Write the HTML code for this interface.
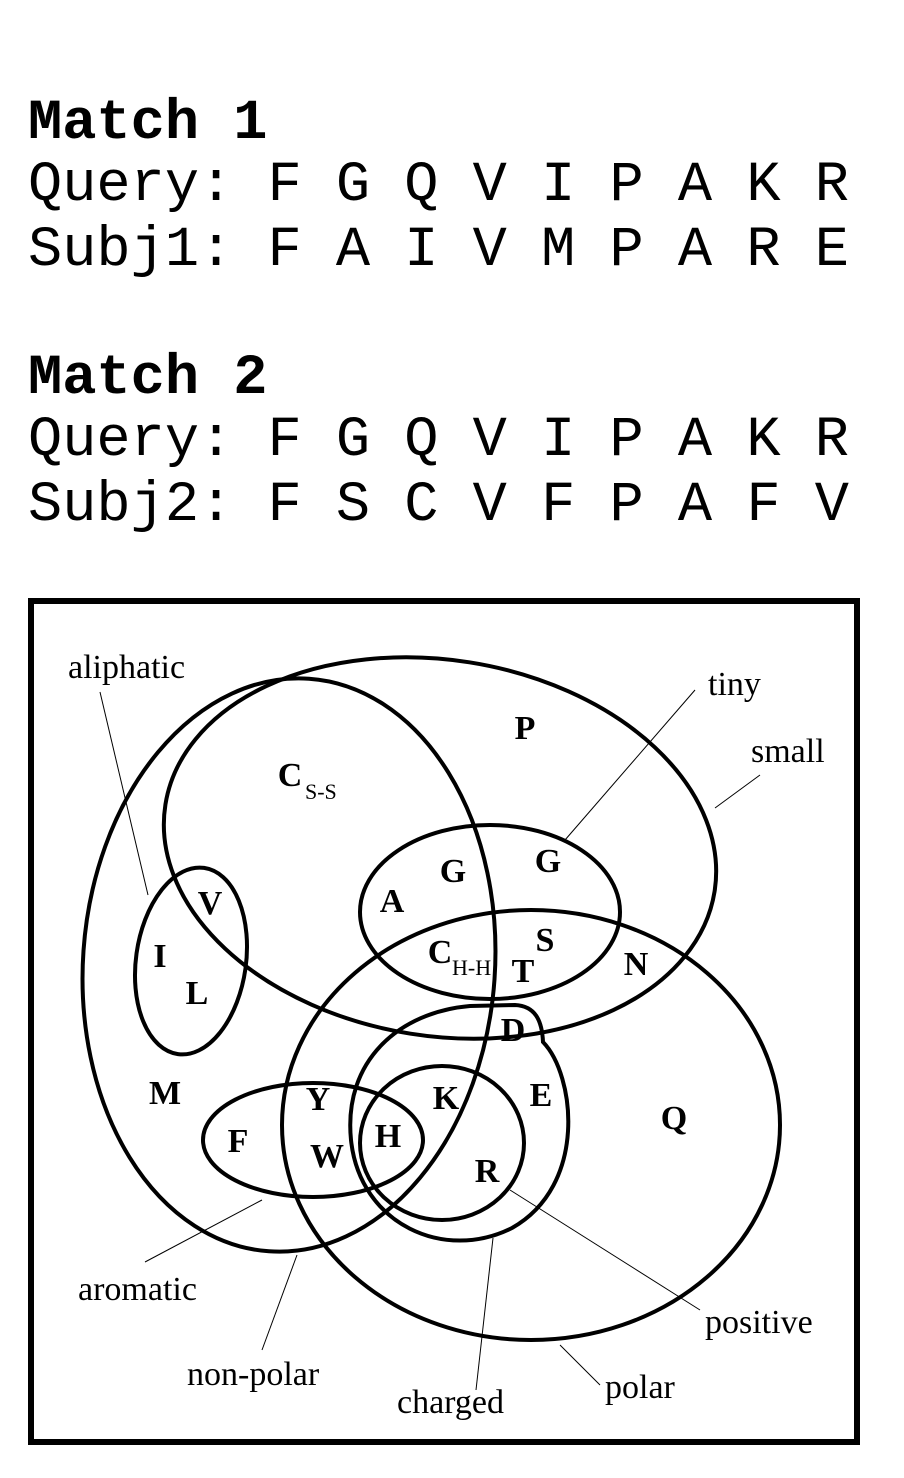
<!DOCTYPE html>
<html><head><meta charset="utf-8"><style>
html,body{margin:0;padding:0;background:#fff;}
body{width:904px;height:1478px;position:relative;overflow:hidden;}
.m{position:absolute;left:28px;font-family:"Liberation Mono",monospace;font-size:57px;white-space:pre;line-height:1;color:#000;}
.b{font-weight:bold;}
svg{position:absolute;left:0;top:0;}
</style></head><body>
<div class="m b" style="top:96px">Match 1</div>
<div class="m" style="top:158px">Query: F G Q V I P A K R</div>
<div class="m" style="top:223px">Subj1: F A I V M P A R E</div>
<div class="m b" style="top:351px">Match 2</div>
<div class="m" style="top:413px">Query: F G Q V I P A K R</div>
<div class="m" style="top:478px">Subj2: F S C V F P A F V</div>
<svg width="904" height="1478" viewBox="0 0 904 1478">
<rect x="31" y="601" width="826" height="841" fill="none" stroke="#000" stroke-width="6"/>
<g fill="none" stroke="#000" stroke-width="4">
<ellipse cx="289" cy="965" rx="206" ry="287" transform="rotate(4 289 965)"/>
<ellipse cx="440" cy="848" rx="278" ry="188" transform="rotate(9 440 848)"/>
<ellipse cx="191" cy="961" rx="55" ry="94" transform="rotate(8 191 961)"/>
<ellipse cx="490" cy="912" rx="130" ry="87"/>
<ellipse cx="531" cy="1125" rx="249" ry="215"/>
<ellipse cx="313" cy="1140" rx="110" ry="57"/>
<path d="M543,1042 C575,1075 588,1185 512,1228 C445,1262 360,1225 351,1140 C343,1060 400,1012 470,1006 L515,1005 C535,1006 542,1020 543,1042 Z"/>
<ellipse cx="442" cy="1143" rx="82" ry="77"/>
</g>
<g stroke="#000" stroke-width="1">
<line x1="100" y1="692" x2="148" y2="895"/>
<line x1="695" y1="690" x2="565" y2="840"/>
<line x1="760" y1="775" x2="715" y2="808"/>
<line x1="145" y1="1262" x2="262" y2="1200"/>
<line x1="262" y1="1350" x2="297" y2="1255"/>
<line x1="476" y1="1390" x2="493" y2="1238"/>
<line x1="700" y1="1310" x2="510" y2="1190"/>
<line x1="600" y1="1385" x2="560" y2="1345"/>
</g>
<g font-family="Liberation Serif, serif" font-size="34" fill="#000">
<text x="68" y="678">aliphatic</text>
<text x="708" y="695">tiny</text>
<text x="751" y="762">small</text>
<text x="78" y="1300">aromatic</text>
<text x="187" y="1385">non-polar</text>
<text x="397" y="1413">charged</text>
<text x="705" y="1333">positive</text>
<text x="605" y="1398">polar</text>
</g>
<g font-family="Liberation Serif, serif" font-size="34" font-weight="bold" fill="#000" text-anchor="middle">
<text x="525" y="739">P</text>
<text x="290" y="786">C</text>
<text x="453" y="882">G</text>
<text x="548" y="872">G</text>
<text x="392" y="912">A</text>
<text x="210" y="914">V</text>
<text x="160" y="967">I</text>
<text x="197" y="1004">L</text>
<text x="440" y="963">C</text>
<text x="545" y="951">S</text>
<text x="523" y="982">T</text>
<text x="636" y="975">N</text>
<text x="513" y="1041">D</text>
<text x="165" y="1104">M</text>
<text x="318" y="1110">Y</text>
<text x="446" y="1109">K</text>
<text x="541" y="1106">E</text>
<text x="674" y="1129">Q</text>
<text x="238" y="1152">F</text>
<text x="388" y="1147">H</text>
<text x="327" y="1167">W</text>
<text x="487" y="1182">R</text>
</g>
<g font-family="Liberation Serif, serif" font-size="22" fill="#000">
<text x="305" y="799">S-S</text>
<text x="452" y="975">H-H</text>
</g>
</svg>
</body></html>
